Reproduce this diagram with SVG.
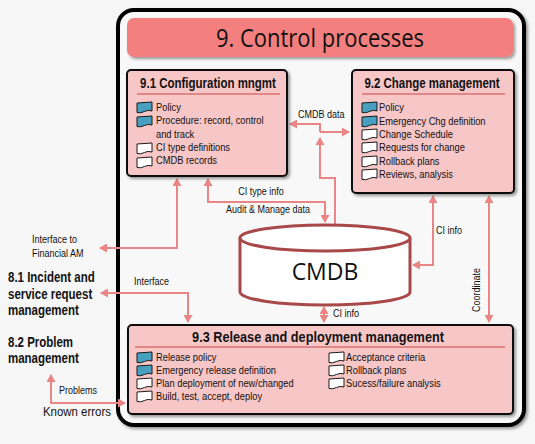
<svg xmlns="http://www.w3.org/2000/svg" width="535" height="444" viewBox="0 0 535 444">
<defs>
<style>
.t{font-family:"Liberation Sans",Arial,sans-serif;fill:#111;}
.it{font-size:11.5px;}
.lb{font-size:11px;}
.bt{font-size:14px;font-weight:bold;}
.box{fill:#f7c6c6;stroke:#111;stroke-width:2;}
.ul{stroke:#d87070;stroke-width:1.5;}
.c{fill:none;stroke:#e98585;stroke-width:2;}
.blue{fill:#48a0c0;stroke:#1a1a1a;stroke-width:1;}
.white{fill:#fff;stroke:#1a1a1a;stroke-width:1;}
</style>
<filter id="sh" x="-10%" y="-10%" width="130%" height="130%">
<feGaussianBlur in="SourceAlpha" stdDeviation="1.5"/>
<feOffset dx="2" dy="2" result="o"/>
<feComponentTransfer><feFuncA type="linear" slope="0.4"/></feComponentTransfer>
<feMerge><feMergeNode/><feMergeNode in="SourceGraphic"/></feMerge>
</filter>
<marker id="ah" markerWidth="9" markerHeight="9" refX="7" refY="4.5" orient="auto-start-reverse" markerUnits="userSpaceOnUse">
<path d="M0,0 L8,4.5 L0,9 Z" fill="#e98585"/>
</marker>
<path id="doc" d="M0,1 L15,0 L15,9 Q11,7.5 7.5,9.5 Q3.5,11.5 0,10.5 Z"/>
</defs>
<rect width="535" height="444" fill="#f6f6f6"/>
<g id="frame">
<rect x="118" y="10" width="406" height="415" rx="16" fill="#f8f8f8" stroke="#000" stroke-width="4" filter="url(#sh)"/>
</g>
<g id="title">
<rect x="127" y="18" width="386" height="39" rx="7" fill="#f47f7f" filter="url(#sh)"/>
<text x="320" y="47" text-anchor="middle" font-family="'Open Sans','Liberation Sans',sans-serif" font-size="25" fill="#111" textLength="208" lengthAdjust="spacingAndGlyphs">9. Control processes</text>
</g>
<g id="connectors">
<path class="c" d="M320,132 V124 H290" marker-end="url(#ah)"/>
<path class="c" d="M320,132 H349" marker-end="url(#ah)"/>
<path class="c" d="M335,224 V178 H320 V138" marker-end="url(#ah)"/>
<path class="c" d="M177,179 V248 H100" marker-start="url(#ah)" marker-end="url(#ah)"/>
<path class="c" d="M208,179 V202 H325 V222" marker-start="url(#ah)" marker-end="url(#ah)"/>
<path class="c" d="M433,196 V265 H413" marker-start="url(#ah)" marker-end="url(#ah)"/>
<path class="c" d="M489,196 V322" marker-start="url(#ah)" marker-end="url(#ah)"/>
<path class="c" d="M324,307 V322" marker-start="url(#ah)" marker-end="url(#ah)"/>
<path class="c" d="M101,293 H188 V322" marker-start="url(#ah)" marker-end="url(#ah)"/>
<path class="c" d="M51,375 V403 H125" marker-start="url(#ah)" marker-end="url(#ah)"/>
<text class="t lb" transform="translate(298,118) scale(.82,1)">CMDB data</text>
<text class="t lb" transform="translate(261,195) scale(.82,1)" text-anchor="middle">CI type info</text>
<text class="t lb" transform="translate(268,213) scale(.82,1)" text-anchor="middle">Audit &amp; Manage data</text>
<text class="t lb" transform="translate(436,234) scale(.82,1)">CI info</text>
<text class="t lb" transform="translate(480,290) rotate(-90) scale(.82,1)" text-anchor="middle">Coordinate</text>
<text class="t lb" transform="translate(333,317) scale(.82,1)">CI info</text>
<text class="t lb" transform="translate(134,285) scale(.82,1)">Interface</text>
<text class="t lb" transform="translate(59,394) scale(.82,1)">Problems</text>
</g>
<g id="n91">
<rect class="box" x="127" y="70" width="160" height="106" rx="4" filter="url(#sh)"/>
<text class="t bt" transform="translate(208,88) scale(.82,1)" text-anchor="middle">9.1 Configuration mngmt</text>
<line class="ul" x1="137" y1="94" x2="280" y2="94"/>
<use href="#doc" class="blue" x="137" y="102"/>
<use href="#doc" class="blue" x="137" y="116"/>
<use href="#doc" class="white" x="137" y="143"/>
<use href="#doc" class="white" x="137" y="157"/>
<text class="t it" transform="translate(156,111) scale(.81,1)">Policy</text>
<text class="t it" transform="translate(156,124) scale(.81,1)">Procedure: record, control</text>
<text class="t it" transform="translate(156,138) scale(.81,1)">and track</text>
<text class="t it" transform="translate(156,151) scale(.81,1)">CI type definitions</text>
<text class="t it" transform="translate(156,164) scale(.81,1)">CMDB records</text>
</g>
<g id="n92">
<rect class="box" x="352" y="70" width="162" height="123" rx="4" filter="url(#sh)"/>
<text class="t bt" transform="translate(432,88) scale(.82,1)" text-anchor="middle">9.2 Change management</text>
<line class="ul" x1="362" y1="94" x2="505" y2="94"/>
<use href="#doc" class="blue" x="362" y="102"/>
<use href="#doc" class="blue" x="362" y="116"/>
<use href="#doc" class="white" x="362" y="129"/>
<use href="#doc" class="white" x="362" y="142"/>
<use href="#doc" class="white" x="362" y="156"/>
<use href="#doc" class="white" x="362" y="169"/>
<text class="t it" transform="translate(379,111) scale(.81,1)">Policy</text>
<text class="t it" transform="translate(379,124.5) scale(.81,1)">Emergency Chg definition</text>
<text class="t it" transform="translate(379,138) scale(.81,1)">Change Schedule</text>
<text class="t it" transform="translate(379,151) scale(.81,1)">Requests for change</text>
<text class="t it" transform="translate(379,164.5) scale(.81,1)">Rollback plans</text>
<text class="t it" transform="translate(379,178) scale(.81,1)">Reviews, analysis</text>
</g>
<g id="n93">
<rect class="box" x="128" y="325" width="385" height="89" rx="4" filter="url(#sh)"/>
<text class="t bt" transform="translate(318,342) scale(.82,1)" text-anchor="middle" style="font-size:15.5px">9.3 Release and deployment management</text>
<line class="ul" x1="135" y1="347" x2="505" y2="347"/>
<use href="#doc" class="blue" x="137" y="352"/>
<use href="#doc" class="blue" x="137" y="365"/>
<use href="#doc" class="white" x="137" y="378"/>
<use href="#doc" class="white" x="137" y="391"/>
<text class="t it" transform="translate(156,361) scale(.81,1)">Release policy</text>
<text class="t it" transform="translate(156,374) scale(.81,1)">Emergency release definition</text>
<text class="t it" transform="translate(156,387) scale(.81,1)">Plan deployment of new/changed</text>
<text class="t it" transform="translate(156,400) scale(.81,1)">Build, test, accept, deploy</text>
<use href="#doc" class="white" x="329" y="352"/>
<use href="#doc" class="white" x="329" y="365"/>
<use href="#doc" class="white" x="329" y="378"/>
<text class="t it" transform="translate(346,361) scale(.81,1)">Acceptance criteria</text>
<text class="t it" transform="translate(346,374) scale(.81,1)">Rollback plans</text>
<text class="t it" transform="translate(346,387) scale(.81,1)">Sucess/failure analysis</text>
</g>
<g id="cmdb">
<path d="M240,238 V292 A85,13 0 0 0 410,292 V238" fill="#fff" stroke="#a84848" stroke-width="3"/>
<ellipse cx="325" cy="238" rx="85" ry="13" fill="#fff" stroke="#a84848" stroke-width="3"/>
<text x="325" y="280" text-anchor="middle" font-family="'Open Sans','Liberation Sans',sans-serif" font-size="23" fill="#111">CMDB</text>
</g>
<g id="ext">
<text class="t lb" transform="translate(32,243) scale(.82,1)">Interface to</text>
<text class="t lb" transform="translate(32,257) scale(.82,1)">Financial AM</text>
<text class="t bt" transform="translate(8,282) scale(.82,1)">8.1 Incident and</text>
<text class="t bt" transform="translate(8,298.5) scale(.82,1)">service request</text>
<text class="t bt" transform="translate(8,315) scale(.82,1)">management</text>
<text class="t bt" transform="translate(8,347) scale(.82,1)">8.2 Problem</text>
<text class="t bt" transform="translate(8,363) scale(.82,1)">management</text>
<text class="t" transform="translate(43,416) scale(.88,1)" font-size="13">Known errors</text>
</g>
</svg>
